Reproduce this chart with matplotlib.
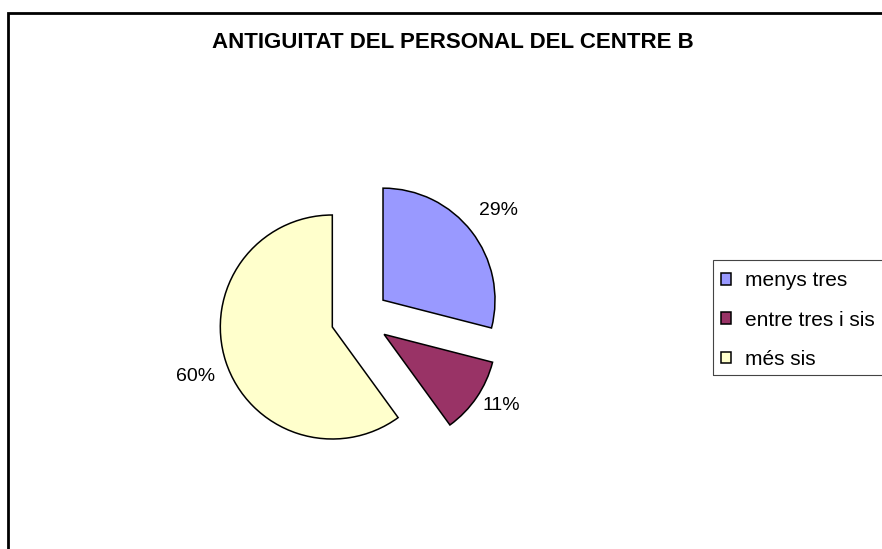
import numpy as np
import matplotlib.pyplot as plt
from matplotlib.patches import Rectangle

plt.rcParams['font.family'] = ['Liberation Sans', 'DejaVu Sans']

title = 'ANTIGUITAT DEL PERSONAL DEL CENTRE B'
categories = ['menys tres', 'entre tres i sis', 'més sis']
values = [29, 11, 60]
colors = ['#9999FF', '#993366', '#FFFFCC']

W, H = 882, 549
fig = plt.figure(figsize=(W / 100, H / 100), dpi=100)
ax = fig.add_axes([0, 0, 1, 1])

# outer chart border (right and bottom run off the picture)
ax.add_patch(Rectangle((8, -20), W + 40, H - 13 + 20, fill=False,
                       edgecolor='black', linewidth=2.0))

ax.text(452.5, H - 42, title, ha='center', va='center',
        fontsize=16.0, fontweight='bold')

radius = 112
wedges, texts, autotexts = ax.pie(
    values, colors=colors, startangle=90, counterclock=False,
    explode=[0.26 * radius] * len(values), center=(360, H - 318),
    radius=radius, autopct='%1.0f%%', pctdistance=1.28, frame=True,
    wedgeprops=dict(edgecolor='black', linewidth=1.1),
    textprops=dict(fontsize=14, color='black'))

# label distances differ a little per slice in the original
label_dist = [1.30, 1.22, 1.30]
label_turn = [0, 3, 2]  # degrees
for w, t, d, a in zip(wedges, autotexts, label_dist, label_turn):
    th = np.deg2rad((w.theta1 + w.theta2) / 2 + a)
    cx, cy = w.center
    t.set_position((cx + d * radius * np.cos(th), cy + d * radius * np.sin(th)))

ax.set_xlim(0, W)
ax.set_ylim(0, H)
ax.set_aspect('auto')
ax.axis('off')

# legend box, cut by the right edge like the original
ax.add_patch(Rectangle((713, H - 375), 200, 115, fill=False,
                       edgecolor='#444444', linewidth=0.8))
leg = fig.legend(wedges, categories, loc='upper left',
                 bbox_to_anchor=(709.5 / W, 1 - 260 / H), borderaxespad=0,
                 fontsize=15, frameon=False,
                 handlelength=0.5, handleheight=0.5, handletextpad=0.65,
                 labelspacing=0.97, borderpad=0.55)

fig.savefig('out.png', dpi=100)
